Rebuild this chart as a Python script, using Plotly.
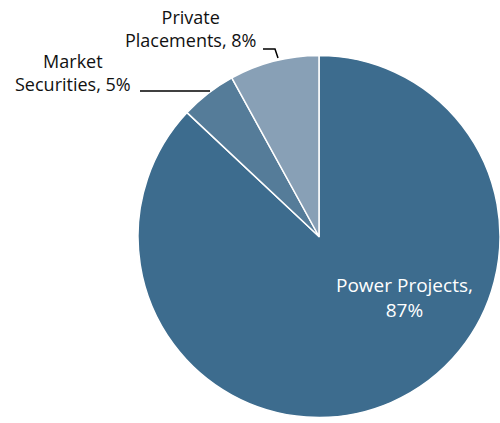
import plotly.graph_objects as go

W, H = 500, 423
labels = ["Power Projects", "Market Securities", "Private Placements"]
values = [87, 5, 8]
colors = ["#3d6c8e", "#557c99", "#88a0b6"]

def px(x):
    return x / W

def py(y):
    return 1 - y / H

fig = go.Figure(go.Pie(
    labels=labels, values=values, sort=False, direction="clockwise", rotation=0,
    marker=dict(colors=colors, line=dict(color="white", width=1.5)),
    textinfo="none", hoverinfo="label+percent",
    domain=dict(x=[0.276, 1.0], y=[py(418), py(55)]),
    showlegend=False,
))

fam = "Open Sans, Lato, sans-serif"
font = dict(family=fam, size=18, color="#111111")
ann = []
ann.append(dict(x=px(404), y=py(297), text=f"{labels[0]},<br>{values[0]}%",
                font=dict(family=fam, size=19, color="white")))
ann.append(dict(x=px(73), y=py(72), text=f"Market<br>Securities, {values[1]}%", font=font))
ann.append(dict(x=px(190), y=py(29), text=f"Private<br>Placements, {values[2]}%", font=font))
for a in ann:
    a.update(xref="paper", yref="paper", showarrow=False, xanchor="center", yanchor="middle", align="center")

shapes = [
    dict(type="line", xref="paper", yref="paper", x0=px(140), y0=py(91), x1=px(210), y1=py(91),
         line=dict(color="black", width=1.5)),
    dict(type="path", xref="paper", yref="paper",
         path=f"M {px(263)} {py(49)} L {px(275)} {py(49)} L {px(278)} {py(58)}",
         line=dict(color="black", width=1.5)),
]

fig.update_layout(width=W, height=H, margin=dict(l=0, r=0, t=0, b=0),
                  paper_bgcolor="white", plot_bgcolor="white",
                  annotations=ann, shapes=shapes)
fig.write_html("out.html", config={"displayModeBar": False},
               post_script="document.body.style.margin='0';document.body.style.overflow='hidden';")
